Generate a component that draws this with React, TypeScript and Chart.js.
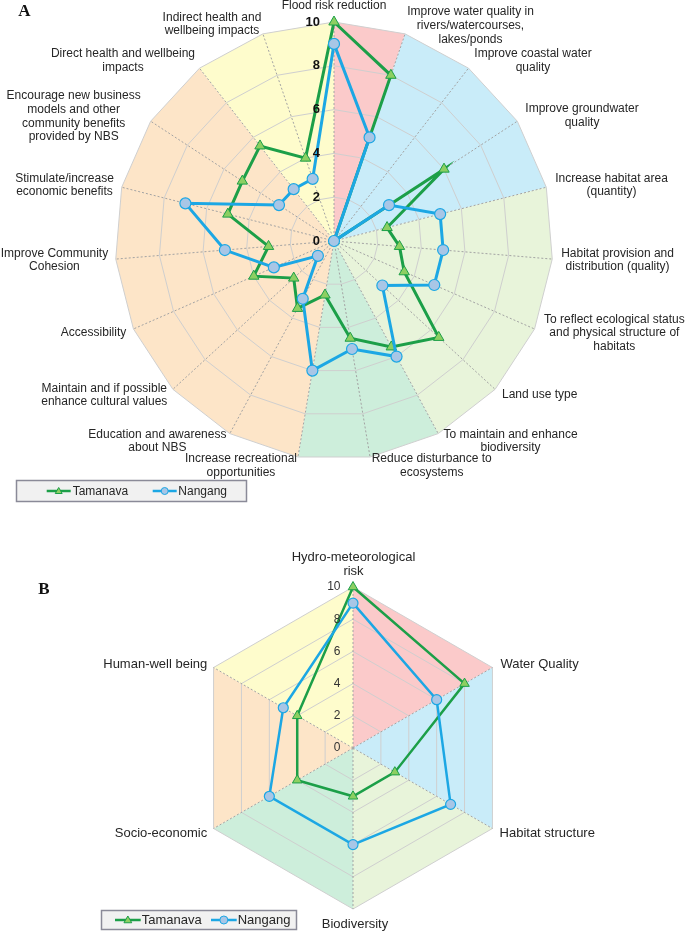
import React, { useEffect, useRef } from 'react';
import { Chart, registerables } from 'chart.js';

Chart.register(...registerables);

// ---------------- data ----------------
const CRITERIA_A: string[][] = [
  ['Flood risk reduction'],
  ['Improve water quality in', 'rivers/watercourses,', 'lakes/ponds'],
  ['Improve coastal water', 'quality'],
  ['Improve groundwater', 'quality'],
  ['Increase habitat area', '(quantity)'],
  ['Habitat provision and', 'distribution (quality)'],
  ['To reflect ecological status', 'and physical structure of', 'habitats'],
  ['Land use type'],
  ['To maintain and enhance', 'biodiversity'],
  ['Reduce disturbance to', 'ecosystems'],
  ['Increase recreational', 'opportunities'],
  ['Education and awareness', 'about NBS'],
  ['Maintain and if possible', 'enhance cultural values'],
  ['Accessibility'],
  ['Improve Community', 'Cohesion'],
  ['Stimulate/increase', 'economic benefits'],
  ['Encourage new business', 'models and other', 'community benefits', 'provided by NBS'],
  ['Direct health and wellbeing', 'impacts'],
  ['Indirect health and', 'wellbeing impacts'],
];
const TAMANAVA_A = [10, 8, 0, 6, 2.5, 3, 3.5, 6.5, 5.5, 4.5, 2.5, 3.5, 2.5, 4, 3, 5, 5, 5.5, 4];
const NANGANG_A = [9, 5, 0, 3, 5, 5, 5, 3, 6, 5, 6, 3, 1, 3, 5, 7, 3, 3, 3];
// group (category of panel B) each criterion of panel A belongs to
const GROUP_OF_CRITERION_A = [0, 1, 1, 1, 2, 2, 2, 2, 3, 3, 4, 4, 4, 4, 4, 4, 4, 5, 5];

const CATEGORIES_B: string[][] = [
  ['Hydro-meteorological', 'risk'],
  ['Water Quality'],
  ['Habitat structure'],
  ['Biodiversity'],
  ['Socio-economic'],
  ['Human-well being'],
];
const TAMANAVA_B = [10, 8, 3, 3, 4, 4];
const NANGANG_B = [9, 6, 7, 6, 6, 5];
const GROUP_OF_CATEGORY_B = [0, 1, 2, 3, 4, 5];

const TICK_VALUES = [0, 2, 4, 6, 8, 10];
const SERIES_NAMES = ['Tamanava', 'Nangang'];

// ---------------- styles / layout ----------------
const GROUP_COLORS = ['#fbcaca', '#c9ecf9', '#e8f4da', '#cdeedb', '#fde5c8', '#fefccc'];
const GREEN = '#1c9f48';
const GREEN_FILL = '#8dcf62';
const BLUE = '#1ca7e4';
const BLUE_FILL = '#a8c6e6';
const SANS = '"Liberation Sans", Arial, Helvetica, sans-serif';
const SERIF = '"Liberation Serif", "Times New Roman", serif';

// offsets of each label's first-line centre from its spoke tip
const LABEL_OFFSETS_A = [
  [0, -16], [65.4, -21.9], [64.5, -14.2], [64.7, -12.2], [65.2, -8.9], [65.3, -5.8],
  [79.8, -9.7], [44.6, 5.7], [72.3, 0.7], [61.7, 2], [-57, 2], [-72.4, 0.7],
  [-68.6, -1], [-39.9, 3.3], [-61.3, -5.8], [-57.2, -8.9], [-77, -25.5], [-76.5, -14.2], [-50.9, -16.6],
];
const LABEL_OFFSETS_B = [[0.5, -29.8], [47.1, -3.3], [54.8, 4.5], [2, 15.5], [-52.6, 4.5], [-58.3, -3.3]];

type LegendCfg = {
  x: number; y: number; w: number; h: number; font: string; lineWidth: number;
  items: { x1: number; x2: number; tx: number }[]; tri: number; circ: number;
};
type PanelCfg = {
  labels: string[][]; groups: number[]; offsets: number[][];
  labelFont: string; lineHeight: number;
  tickFont: string; tickColor: string; tickDx: number;
  letter: string; letterX: number; letterY: number; letterFont: string;
  legend: LegendCfg;
};

function drawTriangle(ctx: CanvasRenderingContext2D, x: number, y: number, r: number) {
  ctx.beginPath();
  ctx.moveTo(x, y - r);
  ctx.lineTo(x + 0.866 * r, y + 0.5 * r);
  ctx.lineTo(x - 0.866 * r, y + 0.5 * r);
  ctx.closePath();
}

function makePanelPlugin(cfg: PanelCfg) {
  return {
    id: 'panel' + cfg.letter,
    beforeDraw(chart: any) {
      const s = chart.scales.r;
      const ctx: CanvasRenderingContext2D = chart.ctx;
      const n = cfg.labels.length;
      ctx.save();
      let i = 0;
      while (i < n) {
        let j = i;
        while (j + 1 < n && cfg.groups[j + 1] === cfg.groups[i]) j++;
        ctx.beginPath();
        ctx.moveTo(s.xCenter, s.yCenter);
        for (let k = i; k <= j + 1; k++) {
          const p = s.getPointPositionForValue(k % n, s.max);
          ctx.lineTo(p.x, p.y);
        }
        ctx.closePath();
        ctx.fillStyle = GROUP_COLORS[cfg.groups[i]];
        ctx.fill();
        i = j + 1;
      }
      ctx.restore();
    },
    afterDatasetsDraw(chart: any) {
      const s = chart.scales.r;
      const ctx: CanvasRenderingContext2D = chart.ctx;
      ctx.save();
      // tick labels
      ctx.font = cfg.tickFont;
      ctx.fillStyle = cfg.tickColor;
      ctx.textAlign = 'right';
      ctx.textBaseline = 'middle';
      TICK_VALUES.forEach((v) => {
        const d = s.getDistanceFromCenterForValue(v);
        ctx.fillText(String(v), s.xCenter + cfg.tickDx, s.yCenter - d);
      });
      // category labels
      ctx.font = cfg.labelFont;
      ctx.fillStyle = '#262626';
      ctx.textAlign = 'center';
      cfg.labels.forEach((lines, i) => {
        const p = s.getPointPositionForValue(i, s.max);
        const [dx, dy] = cfg.offsets[i];
        lines.forEach((t, k) => ctx.fillText(t, p.x + dx, p.y + dy + k * cfg.lineHeight));
      });
      // panel letter
      ctx.font = cfg.letterFont;
      ctx.fillStyle = '#111';
      ctx.fillText(cfg.letter, cfg.letterX, cfg.letterY);
      // legend
      const L = cfg.legend;
      ctx.fillStyle = '#f1f1f1';
      ctx.fillRect(L.x, L.y, L.w, L.h);
      ctx.strokeStyle = '#8a8a98';
      ctx.lineWidth = 1.5;
      ctx.strokeRect(L.x, L.y, L.w, L.h);
      const cy = L.y + L.h / 2;
      L.items.forEach((it, k) => {
        const col = k === 0 ? GREEN : BLUE;
        ctx.strokeStyle = col;
        ctx.lineWidth = L.lineWidth;
        ctx.beginPath();
        ctx.moveTo(it.x1, cy);
        ctx.lineTo(it.x2, cy);
        ctx.stroke();
        const mx = (it.x1 + it.x2) / 2;
        ctx.lineWidth = 1;
        if (k === 0) {
          drawTriangle(ctx, mx, cy + 0.5, L.tri);
          ctx.fillStyle = GREEN_FILL;
          ctx.fill();
          ctx.stroke();
        } else {
          ctx.beginPath();
          ctx.arc(mx, cy, L.circ, 0, Math.PI * 2);
          ctx.fillStyle = BLUE_FILL;
          ctx.fill();
          ctx.stroke();
        }
        ctx.font = L.font;
        ctx.fillStyle = '#262626';
        ctx.textAlign = 'left';
        ctx.fillText(SERIES_NAMES[k], it.tx, cy + 0.5);
      });
      ctx.restore();
    },
  };
}

function buildConfig(
  labels: string[][], tam: number[], nan: number[], cfg: PanelCfg,
  padding: { left: number; right: number; top: number; bottom: number },
  lw: number, triR: number, circR: number,
): any {
  return {
    type: 'radar',
    data: {
      labels: labels.map((l) => l.join(' ')),
      datasets: [
        {
          label: SERIES_NAMES[0], data: tam, order: 1,
          borderColor: GREEN, borderWidth: lw, backgroundColor: 'transparent', fill: false,
          pointStyle: 'triangle', pointRadius: triR, pointBackgroundColor: GREEN_FILL,
          pointBorderColor: GREEN, pointBorderWidth: 1,
        },
        {
          label: SERIES_NAMES[1], data: nan, order: 0,
          borderColor: BLUE, borderWidth: lw, backgroundColor: 'transparent', fill: false,
          pointStyle: 'circle', pointRadius: circR, pointBackgroundColor: BLUE_FILL,
          pointBorderColor: BLUE, pointBorderWidth: 1.2,
        },
      ],
    },
    options: {
      responsive: false,
      animation: false,
      events: [],
      layout: { padding },
      elements: { line: { tension: 0 } },
      plugins: { legend: { display: false }, tooltip: { enabled: false } },
      scales: {
        r: {
          min: 0, max: 10, beginAtZero: true,
          ticks: { display: false, stepSize: 2 },
          pointLabels: { display: false },
          grid: { color: '#cfcfcf', lineWidth: 1 },
          angleLines: { color: '#a3a3a3', lineWidth: 1, borderDash: [2, 2] },
        },
      },
    },
    plugins: [makePanelPlugin(cfg)],
  };
}

const PANEL_A: PanelCfg = {
  labels: CRITERIA_A, groups: GROUP_OF_CRITERION_A, offsets: LABEL_OFFSETS_A,
  labelFont: `12px ${SANS}`, lineHeight: 13.8,
  tickFont: `bold 13px ${SANS}`, tickColor: '#111', tickDx: -14,
  letter: 'A', letterX: 24.5, letterY: 12, letterFont: `bold 17px ${SERIF}`,
  legend: {
    x: 16.5, y: 480.5, w: 230, h: 21, font: `12px ${SANS}`, lineWidth: 2.5,
    items: [{ x1: 46.7, x2: 70.7, tx: 72.7 }, { x1: 152.7, x2: 176.7, tx: 178.3 }], tri: 4, circ: 3.5,
  },
};

const PANEL_B: PanelCfg = {
  labels: CATEGORIES_B, groups: GROUP_OF_CATEGORY_B, offsets: LABEL_OFFSETS_B,
  labelFont: `13px ${SANS}`, lineHeight: 14.3,
  tickFont: `12px ${SANS}`, tickColor: '#333', tickDx: -12.5,
  letter: 'B', letterX: 44, letterY: 85, letterFont: `bold 17px ${SERIF}`,
  legend: {
    x: 101.5, y: 405.5, w: 195, h: 19, font: `13px ${SANS}`, lineWidth: 2.5,
    items: [{ x1: 115, x2: 140.7, tx: 141.7 }, { x1: 211, x2: 236.7, tx: 237.7 }], tri: 4.5, circ: 4,
  },
};

function RadarCanvas({ make, width, height, top }: { make: () => any; width: number; height: number; top: number }) {
  const ref = useRef<HTMLCanvasElement>(null);
  useEffect(() => {
    const chart = new Chart(ref.current as HTMLCanvasElement, make());
    return () => chart.destroy();
  }, []);
  return (
    <canvas
      ref={ref}
      width={width}
      height={height}
      style={{ position: 'absolute', left: 0, top, width, height, display: 'block' }}
    />
  );
}

export default function App() {
  return (
    <div style={{ position: 'absolute', left: 0, top: 0, width: 685, height: 935, background: '#fff', overflow: 'hidden' }}>
      <RadarCanvas
        width={685}
        height={505}
        top={0}
        make={() => buildConfig(CRITERIA_A, TAMANAVA_A, NANGANG_A, PANEL_A, { left: 115, right: 132, top: 22, bottom: 45 }, 3, 6, 5.5)}
      />
      <RadarCanvas
        width={685}
        height={430}
        top={505}
        make={() => buildConfig(CATEGORIES_B, TAMANAVA_B, NANGANG_B, PANEL_B, { left: 192, right: 170, top: 82, bottom: 25 }, 2.5, 5.5, 5)}
      />
    </div>
  );
}
